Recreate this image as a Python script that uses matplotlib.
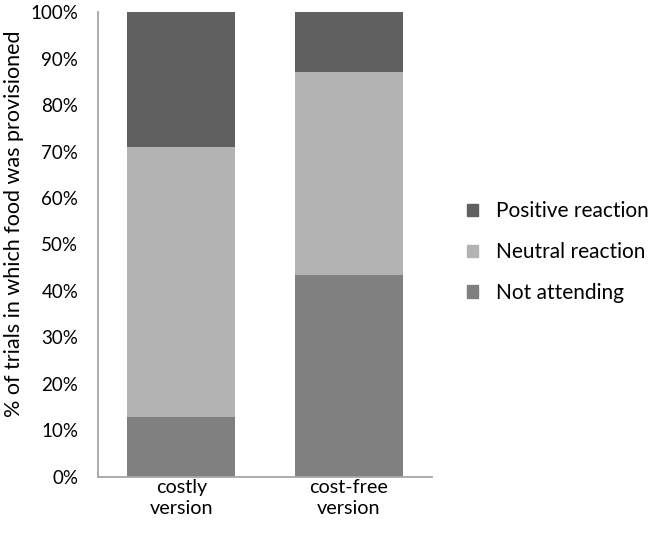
import matplotlib
matplotlib.use("Agg")
import matplotlib.pyplot as plt
from matplotlib.patches import Patch
from matplotlib.ticker import FuncFormatter

plt.rcParams['font.family'] = ['Lato', 'DejaVu Sans']

categories = ["costly\nversion", "cost-free\nversion"]
not_attending = [12.9, 43.5]
neutral = [58.1, 43.6]
positive = [29.0, 12.9]
series_names = ["Not attending", "Neutral reaction", "Positive reaction"]
colors = ["#808080", "#b3b3b3", "#606060"]

fig = plt.figure(figsize=(6.58, 5.58), dpi=100)
ax = fig.add_axes([0.1485, 0.1457, 0.5085, 0.8323])

x = list(range(len(categories)))
w = 0.645
ax.bar(x, not_attending, w, color=colors[0])
ax.bar(x, neutral, w, bottom=not_attending, color=colors[1])
bottom3 = [a + b for a, b in zip(not_attending, neutral)]
ax.bar(x, positive, w, bottom=bottom3, color=colors[2])

ax.set_xlim(-0.5, 1.5)
ax.set_ylim(0, 100)
ax.set_yticks(range(0, 101, 10))
ax.yaxis.set_major_formatter(FuncFormatter(lambda v, p: f"{int(v)}%"))
ax.set_xticks(x)
ax.set_xticklabels(categories, fontsize=14.2, linespacing=1.25)
ax.tick_params(axis='both', length=0, colors='black')
ax.tick_params(axis='y', pad=14, labelsize=13.5)
ax.tick_params(axis='x', pad=2)
for s in ['top', 'right']:
    ax.spines[s].set_visible(False)
for s in ['left', 'bottom']:
    ax.spines[s].set_color('#a6a6a6')
    ax.spines[s].set_linewidth(1.3)

ax.set_ylabel("% of trials in which food was provisioned", fontsize=15.5)
ax.yaxis.set_label_coords(-0.219, 0.545)

handles = [Patch(color=colors[2]), Patch(color=colors[1]), Patch(color=colors[0])]
labels = [series_names[2], series_names[1], series_names[0]]
fig.legend(handles, labels, loc='center left', bbox_to_anchor=(0.681, 0.548),
           frameon=False, fontsize=15, handlelength=0.55, handleheight=0.55,
           handletextpad=0.85, labelspacing=1.0)

fig.savefig("out.png", dpi=100)
